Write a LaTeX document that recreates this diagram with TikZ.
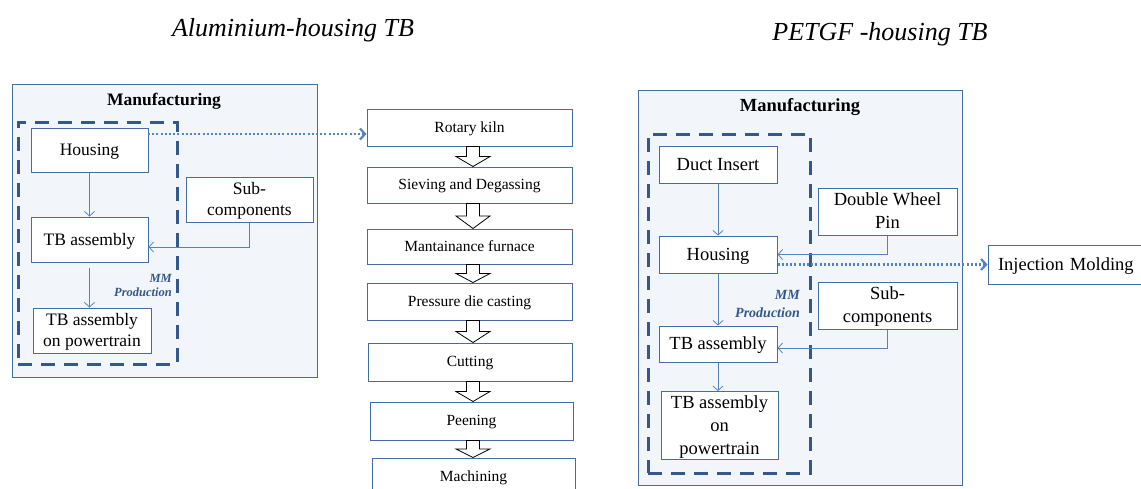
\documentclass[tikz,border=0pt]{standalone}
\usepackage{fontspec}
\setmainfont{Liberation Serif}
\usetikzlibrary{arrows.meta,calc}
\definecolor{bxline}{RGB}{68,108,165}
\definecolor{dashc}{RGB}{52,88,140}
\definecolor{arrc}{RGB}{82,132,192}
\definecolor{panelfill}{RGB}{242,246,250}
\newcommand{\bst}{\rule[-0.27em]{0pt}{1.18em}}
\begin{document}
\begin{tikzpicture}[x=1pt,y=-1pt,
  panel/.style={draw=bxline,fill=panelfill,line width=1pt,inner sep=0pt},
  mmbox/.style={draw=dashc,line width=3pt,dash pattern=on 14pt off 9pt,inner sep=0pt},
  box/.style={draw=bxline,fill=white,line width=1pt,inner sep=0pt,align=center},
  lfont/.style={font=\fontsize{17.5}{21}\selectfont},
  mfont/.style={font=\fontsize{15.5}{18.5}\selectfont},
  rfont/.style={font=\fontsize{18.5}{23}\selectfont},
  conn/.style={draw=arrc,line width=0.8pt,-{Straight Barb[length=4.5pt,width=10pt]}},
  dotarr/.style={draw=arrc,line width=2.2pt,dash pattern=on 2pt off 2.2pt,-{Straight Barb[length=5pt,width=11pt]}},
  blockarr/.style={draw=black,fill=white,line width=0.8pt},
  mmlabel/.style={text=dashc,align=right,anchor=east,inner sep=0pt}
]
\useasboundingbox (0,0) rectangle (1141,488);
\clip (0,0) rectangle (1141,488);
\fill[white] (0,0) rectangle (1141,488);

% titles
\node[font=\fontsize{26}{30}\itshape] (t1) at (293,30) {Aluminium-housing TB};
\node[font=\fontsize{26}{30}\itshape] (t2) at (880,34) {PETGF -housing TB};

% ---------------- left panel ----------------
\node[panel,minimum width=305,minimum height=293] (pan1) at (164.5,230.5) {};
\node[font=\fontsize{17.5}{21}\bfseries] (man1) at (164,101) {Manufacturing};
\node[mmbox,minimum width=159,minimum height=242] (dash1) at (97.5,243) {};
\node[box,lfont,minimum width=117,minimum height=44] (hous1) at (89.5,150) {\bst Housing};
\node[box,lfont,minimum width=117,minimum height=45] (tb1) at (89.5,239.5) {\bst TB assembly};
\node[box,lfont,minimum width=118,minimum height=45] (pt1) at (92,330.5) {\bst TB assembly\\\bst on powertrain};
\node[box,lfont,minimum width=127,minimum height=45] (sub1) at (249.5,199.5) {\bst Sub-\\\bst components};
\node[mmlabel,font=\fontsize{12.5}{14}\bfseries\itshape] (mm1) at (172,285) {MM\\Production};

\draw[conn] (hous1.south) -- (tb1.north);
\draw[conn,shorten <=5pt] (tb1.south) -- (tb1.south |- pt1.north);
\draw[conn] (sub1.south) |- ($(tb1.east)+(0,7.5)$);

% ---------------- middle column ----------------
\node[box,mfont,minimum width=205,minimum height=37] (rk) at (469.5,127.5) {\bst Rotary kiln};
\node[box,mfont,minimum width=205,minimum height=36] (sv) at (469.5,185) {\bst Sieving and Degassing};
\node[box,mfont,minimum width=205,minimum height=35] (mf) at (469.5,246.5) {\bst Mantainance furnace};
\node[box,mfont,minimum width=205,minimum height=37] (pd) at (469.5,301.5) {\bst Pressure die casting};
\node[box,mfont,minimum width=204,minimum height=38] (ct) at (470,362) {\bst Cutting};
\node[box,mfont,minimum width=203,minimum height=38] (pe) at (471.5,421) {\bst Peening};
\node[box,mfont,minimum width=203,minimum height=38] (mc) at (473.5,477) {\bst Machining};

\coordinate (d1) at (148,134);
\draw[dotarr] (d1) -- (d1 -| rk.west);

\foreach \a/\b in {rk/sv,sv/mf,mf/pd,pd/ct,ct/pe,pe/mc}{
  \draw[blockarr] let \p1=(\a.south), \p2=(\b.north), \n1={(\y1+\y2)/2} in
    (473pt-6.5pt,\y1) -- (473pt+6.5pt,\y1) -- (473pt+6.5pt,\n1) -- (473pt+17pt,\n1)
    -- (473pt,\y2) -- (473pt-17pt,\n1) -- (473pt-6.5pt,\n1) -- cycle;
}

% ---------------- right panel ----------------
\node[panel,minimum width=324,minimum height=395] (pan2) at (800,287.5) {};
\node[font=\fontsize{18.5}{22}\bfseries] (man2) at (800,107) {Manufacturing};
\node[mmbox,minimum width=162,minimum height=339] (dash2) at (729,303.5) {};
\node[box,rfont,minimum width=118,minimum height=37] (duct) at (718,164.5) {\bst Duct Insert};
\node[box,rfont,minimum width=118,minimum height=37] (hous2) at (718,254.5) {\bst Housing};
\node[box,rfont,minimum width=118,minimum height=36] (tb2) at (718,344) {\bst TB assembly};
\node[box,rfont,minimum width=117,minimum height=67] (pt2) at (719.5,425.5) {\bst TB assembly\\\bst on\\\bst powertrain};
\node[box,rfont,minimum width=139,minimum height=47] (dwp) at (887.5,211.5) {\bst Double Wheel\\\bst Pin};
\node[box,rfont,minimum width=139,minimum height=47] (sub2) at (887.5,305.5) {\bst Sub-\\\bst components};
\node[box,rfont,minimum width=158,minimum height=39,text width=138,align=left] (inj) at (1067,264.5) {\bst Injection Molding};
\node[mmlabel,font=\fontsize{14}{18}\bfseries\itshape] (mm2) at (800,304) {MM\\Production};

\draw[conn] (duct.south) -- (hous2.north);
\draw[conn] (hous2.south) -- (tb2.north);
\draw[conn] (tb2.south) -- (pt2.north -| tb2.south);
\draw[conn] (dwp.south) |- (hous2.east);
\draw[conn] (sub2.south) |- ($(tb2.east)+(0,4)$);
\draw[dotarr] (hous2.east |- inj.west) -- (inj.west);
\end{tikzpicture}
\end{document}
